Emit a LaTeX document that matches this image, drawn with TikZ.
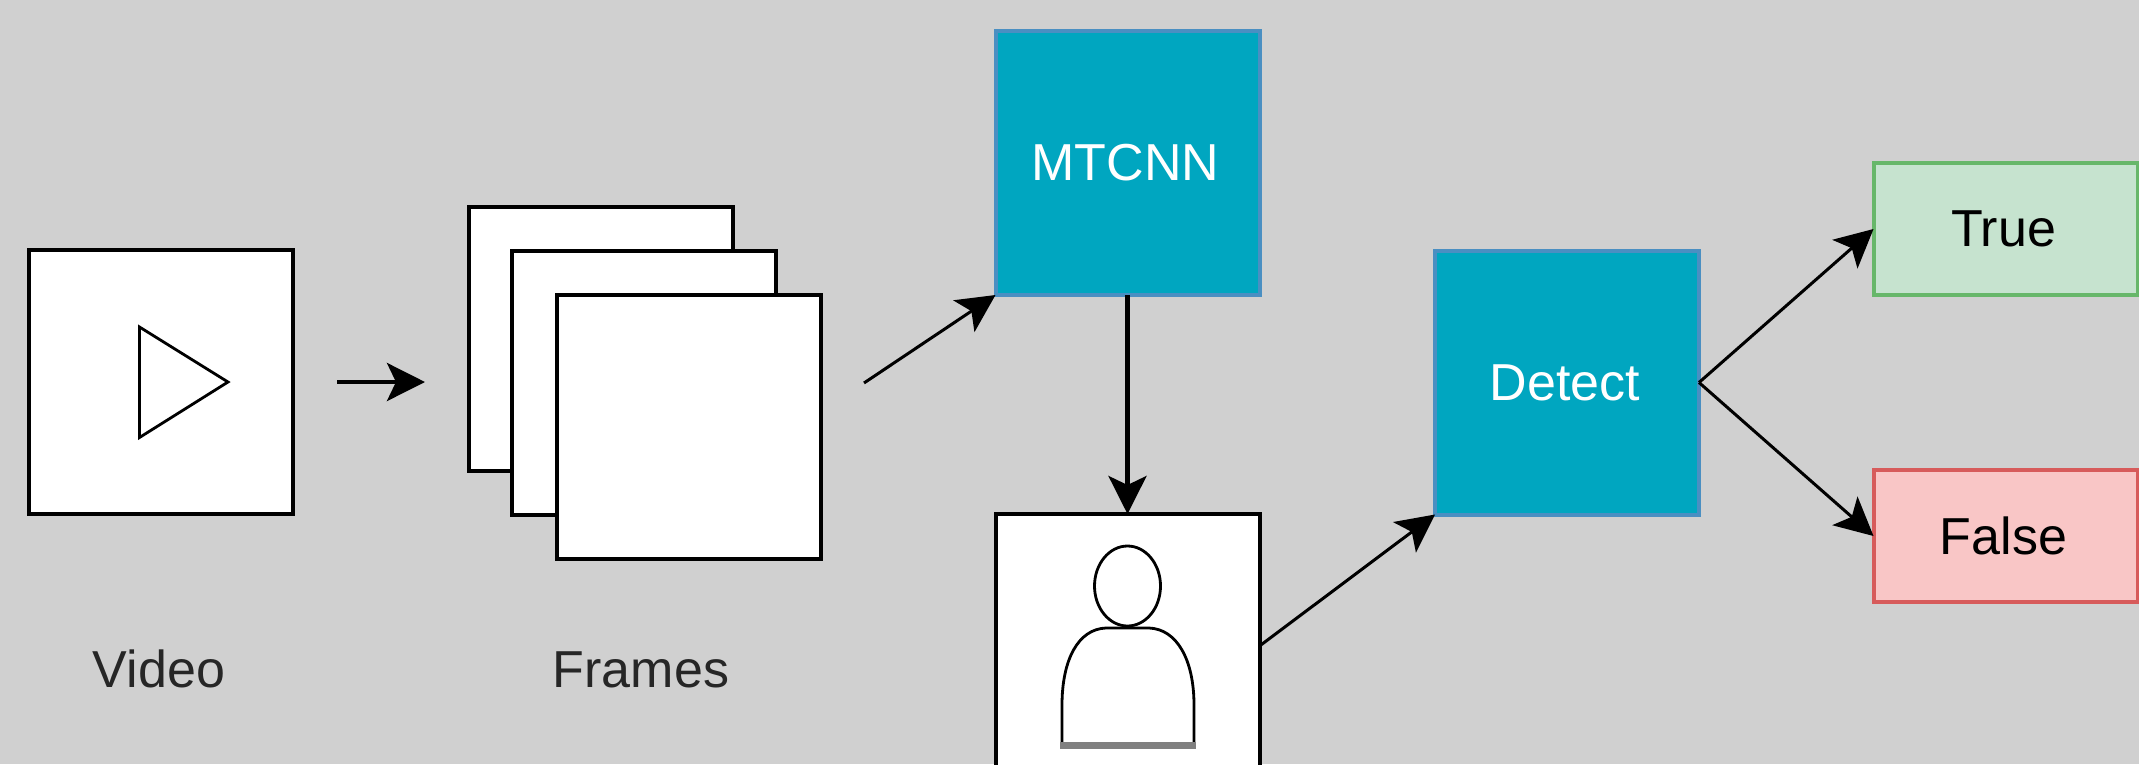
\documentclass[tikz,border=0pt]{standalone}
\usepackage{fontspec}
\setmainfont{Liberation Sans}
\usetikzlibrary{arrows.meta}
\definecolor{bgc}{HTML}{D0D0D0}
\definecolor{tealf}{HTML}{00A6C0}
\definecolor{teald}{HTML}{4A8FC2}
\definecolor{greenf}{HTML}{C6E3CF}
\definecolor{greend}{HTML}{67B76A}
\definecolor{redf}{HTML}{F9C6C6}
\definecolor{redd}{HTML}{D75B5B}
\newcommand{\boxtext}[1]{\raisebox{-1pt}{#1}\hspace*{4pt}}
\tikzset{
  box/.style={rectangle,draw,line width=4pt,inner sep=0pt,outer sep=0pt,minimum width=264pt,minimum height=264pt,font=\fontsize{52}{60}\selectfont},
  whitebox/.style={box,draw=black,fill=white},
  tealbox/.style={box,draw=teald,fill=tealf,text=white},
  greenbox/.style={box,draw=greend,fill=greenf,minimum height=132pt,text=black},
  redbox/.style={box,draw=redd,fill=redf,minimum height=132pt,text=black},
  lbl/.style={inner sep=0pt,anchor=base,font=\fontsize{52}{60}\selectfont,text=black!85},
  conn/.style={-{Stealth[length=38pt,width=38pt,inset=9pt]},line width=4.3pt,black},
  dconn/.style={conn,line width=3pt},
  glyph/.style={draw=black,fill=white,line width=2.8pt,line join=miter}
}
\begin{document}
\begin{tikzpicture}[x=1pt,y=-1pt]
\useasboundingbox (0,0) rectangle (2139,764);
\clip (0,0) rectangle (2139,764);
\fill[bgc] (0,0) rectangle (2139,764);
% video
\node[whitebox] (video) at (161,382) {};
\draw[glyph] (139.5,327) -- (228,382) -- (139.5,437.5) -- cycle;
% frames
\node[whitebox] (f1) at (601,339) {};
\node[whitebox] (f2) at (644,382.5) {};
\node[whitebox] (f3) at (688.5,426.5) {};
% processing
\node[tealbox] (mtcnn) at (1127.5,163) {\boxtext{MTCNN}};
\node[whitebox] (face) at (1127.5,646) {};
\node[tealbox] (detect) at (1567,382.5) {\boxtext{Detect}};
\node[greenbox] (true) at (2005.5,229) {\boxtext{True}};
\node[redbox] (false) at (2005.5,536) {\boxtext{False}};
% person glyph
\draw[glyph] (1062,745) -- (1062,705) .. controls (1062,660) and (1078,629) .. (1106,628) -- (1149,628) .. controls (1177,629) and (1194,660) .. (1194,705) -- (1194,745);
\draw[line width=7pt,draw=black!50] (1060,745) -- (1196,745);
\draw[glyph] (1127.5,586) ellipse [x radius=33, y radius=40];
% labels
\node[lbl] (vlabel) at (159,687) {Video};
\node[lbl] (flabel) at (641,687) {Frames};
% connectors
\coordinate (a1) at (337,382);
\coordinate (a2) at (425,382);
\coordinate (a3) at (864,383);
\draw[conn] (a1) -- (a2);
\draw[dconn] (a3) -- (mtcnn.south west);
\draw[conn] (mtcnn.south) -- (face.north);
\draw[dconn] (face.east) -- (detect.south west);
\draw[dconn] (detect.east) -- (true.west);
\draw[dconn] (detect.east) -- (false.west);
\end{tikzpicture}
\end{document}
